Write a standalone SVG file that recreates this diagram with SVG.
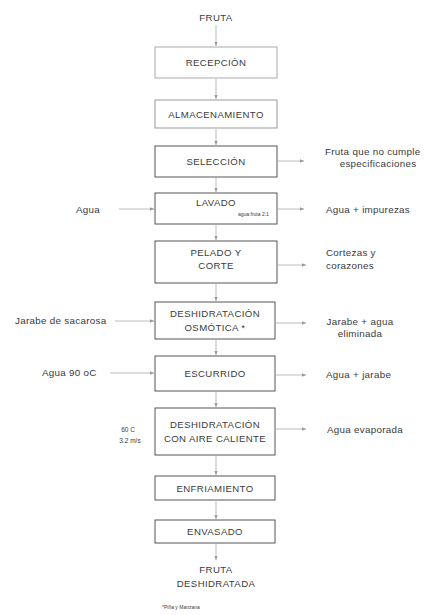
<svg xmlns="http://www.w3.org/2000/svg" width="431" height="615" viewBox="0 0 431 615">
  <style>
    text { font-family: "Liberation Sans", Arial, sans-serif; fill: #3a3a3a; }
    .t { font-size: 9.6px; text-anchor: middle; letter-spacing: 0.4px; }
    .s { font-size: 9.8px; letter-spacing: 0.3px; }
    .m { text-anchor: middle; }
    .tiny { font-size: 5px; }
    .box { fill: #fff; stroke: #555; stroke-width: 1; }
    .conn line { stroke: #aaa; stroke-width: 0.8; marker-end: url(#ah); }
  </style>
  <defs>
    <marker id="ah" markerWidth="5" markerHeight="5" refX="4" refY="2.5" orient="auto" markerUnits="userSpaceOnUse">
      <path d="M0,0.8 L4,2.5 L0,4.2 z" fill="#999"/>
    </marker>
  </defs>
  <rect width="431" height="615" fill="#fff"/>

  <!-- connectors -->
  <g id="connectors" class="conn">
    <line x1="216" y1="25" x2="216" y2="46"/>
    <line x1="216" y1="79" x2="216" y2="99"/>
    <line x1="216" y1="129" x2="216" y2="145"/>
    <line x1="216" y1="178" x2="216" y2="192"/>
    <line x1="216" y1="225" x2="216" y2="240"/>
    <line x1="216" y1="284" x2="216" y2="301"/>
    <line x1="216" y1="340" x2="216" y2="355"/>
    <line x1="216" y1="392" x2="216" y2="407"/>
    <line x1="216" y1="456" x2="216" y2="475"/>
    <line x1="216" y1="501" x2="216" y2="519"/>
    <line x1="216" y1="544" x2="216" y2="560"/>
    <!-- inputs -->
    <line x1="119" y1="209" x2="154" y2="209"/>
    <line x1="115" y1="321" x2="154" y2="321"/>
    <line x1="110" y1="373" x2="154" y2="373"/>
    <!-- outputs -->
    <line x1="278" y1="161" x2="304" y2="161"/>
    <line x1="278" y1="209" x2="304" y2="209"/>
    <line x1="278" y1="265" x2="306" y2="265"/>
    <line x1="276" y1="323" x2="306" y2="323"/>
    <line x1="276" y1="375" x2="306" y2="375"/>
    <line x1="276" y1="429" x2="306" y2="429"/>
  </g>

  <text class="t" x="216" y="21">FRUTA</text>

  <g id="recepcion">
    <rect class="box" x="155" y="47" width="122" height="31" style="stroke:#aaa"/>
    <text class="t" x="216" y="66">RECEPCIÓN</text>
  </g>
  <g id="almacenamiento">
    <rect class="box" x="155" y="100" width="122" height="28" style="stroke:#999"/>
    <text class="t" x="216" y="118">ALMACENAMIENTO</text>
  </g>
  <g id="seleccion">
    <rect class="box" x="155" y="146" width="122" height="31"/>
    <text class="t" x="216" y="165">SELECCIÓN</text>
  </g>
  <g id="lavado">
    <rect class="box" x="155" y="193" width="122" height="31"/>
    <text class="t" x="216" y="206">LAVADO</text>
    <text class="tiny" x="238" y="216">agua:fruta  2:1</text>
  </g>
  <g id="pelado">
    <rect class="box" x="155" y="241" width="122" height="42"/>
    <text class="t" x="216" y="256">PELADO Y</text>
    <text class="t" x="216" y="269">CORTE</text>
  </g>
  <g id="osmotica">
    <rect class="box" x="155" y="302" width="120" height="37"/>
    <text class="t" x="215" y="317">DESHIDRATACIÓN</text>
    <text class="t" x="215" y="331">OSMÓTICA *</text>
  </g>
  <g id="escurrido">
    <rect class="box" x="155" y="356" width="120" height="35"/>
    <text class="t" x="215" y="377">ESCURRIDO</text>
  </g>
  <g id="aire">
    <rect class="box" x="155" y="408" width="120" height="47"/>
    <text class="t" x="215" y="428">DESHIDRATACIÓN</text>
    <text class="t" x="215" y="442">CON AIRE CALIENTE</text>
  </g>
  <g id="enfriamiento">
    <rect class="box" x="155" y="476" width="120" height="24"/>
    <text class="t" x="215" y="492">ENFRIAMIENTO</text>
  </g>
  <g id="envasado">
    <rect class="box" x="155" y="520" width="120" height="23"/>
    <text class="t" x="215" y="535">ENVASADO</text>
  </g>

  <text class="t" x="216" y="573">FRUTA</text>
  <text class="t" x="216" y="587">DESHIDRATADA</text>
  <text class="tiny" x="162" y="609">*Piña y Manzana</text>

  <!-- inputs -->
  <text class="s" x="76" y="213">Agua</text>
  <text class="s" x="15" y="324">Jarabe de sacarosa</text>
  <text class="s" x="42" y="376">Agua  90 oC</text>
  <text class="s m" x="128" y="432" style="font-size:6.5px;letter-spacing:0">60 C</text>
  <text class="s m" x="130" y="443" style="font-size:6.5px;letter-spacing:0">3.2 m/s</text>

  <!-- outputs -->
  <text class="s" x="325" y="155">Fruta que  no cumple</text>
  <text class="s m" x="378" y="167">especificaciones</text>
  <text class="s" x="326" y="213">Agua + impurezas</text>
  <text class="s" x="326" y="256">Cortezas y</text>
  <text class="s" x="326" y="269">corazones</text>
  <text class="s m" x="360" y="325">Jarabe + agua</text>
  <text class="s m" x="360" y="337">eliminada</text>
  <text class="s" x="326" y="378">Agua + jarabe</text>
  <text class="s" x="327" y="433">Agua evaporada</text>
</svg>
